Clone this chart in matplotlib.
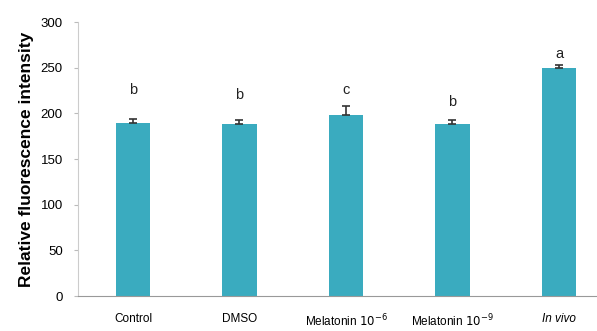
import matplotlib
matplotlib.use('Agg')
import matplotlib.pyplot as plt

# data
groups = ['Control', 'DMSO', 'Melatonin $10^{-6}$', 'Melatonin $10^{-9}$', 'In vivo']
means = [189, 188, 198, 188, 250]
errors = [4.5, 4.5, 9.5, 4.5, 3]
letters = ['b', 'b', 'c', 'b', 'a']
letter_y = [226, 220, 226, 212, 265]

plt.rcParams['font.family'] = ['Liberation Sans', 'DejaVu Sans']

fig = plt.figure(figsize=(5.97, 3.31), dpi=100)
ax = fig.add_axes([0.1307, 0.1057, 0.8693, 0.8278])

x = list(range(len(groups)))
ax.bar(x, means, width=0.32, color='#3AABBF')
# only the upper half of the error bar shows above the bar
ax.errorbar(x, means, yerr=[[0] * len(errors), errors], fmt='none',
            ecolor='#333333', elinewidth=1.2, capsize=3, capthick=1.2)

for i, (lt, ly) in enumerate(zip(letters, letter_y)):
    ax.text(i, ly, lt, ha='center', va='center', fontsize=10.5, color='#222222')

ax.set_xlim(-0.516, 4.357)
ax.set_ylim(0, 300)
ax.set_yticks(range(0, 301, 50))
ax.tick_params(axis='y', labelsize=9.5, length=3, color='#bbbbbb', pad=8)
ax.tick_params(axis='x', length=0, labelsize=8.5, pad=12)
ax.set_xticks(x)
ax.set_xticklabels(groups)
ax.get_xticklabels()[-1].set_style('italic')

for s in ['top', 'right']:
    ax.spines[s].set_visible(False)
ax.spines['left'].set_color('#cccccc')
ax.spines['bottom'].set_color('#999999')

ax.set_ylabel('Relative fluorescence intensity', fontsize=12.5, fontweight='bold', labelpad=5)

fig.savefig('out.png', dpi=100)
